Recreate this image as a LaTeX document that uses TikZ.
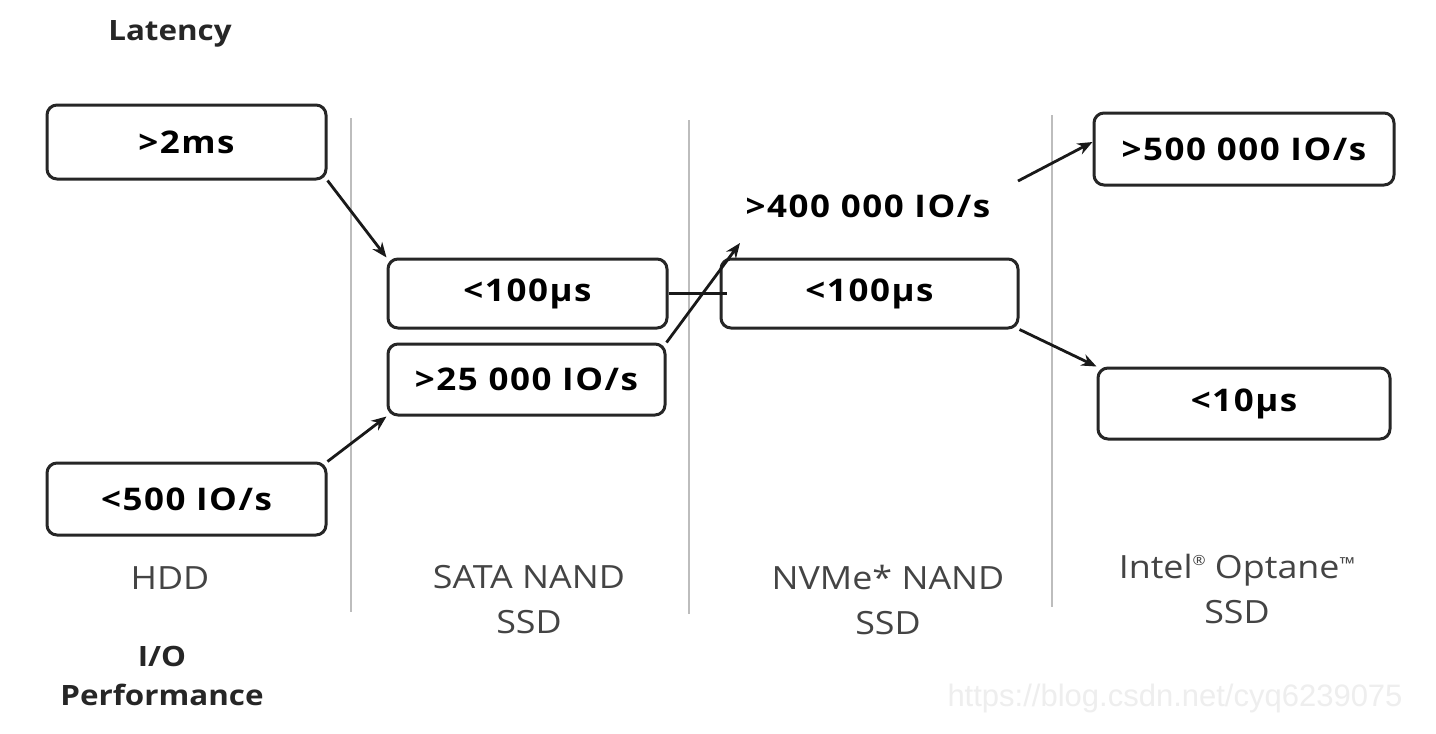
\documentclass[tikz,border=0pt]{standalone}
\usepackage{fontspec}
\setmainfont{Open Sans}[FakeStretch=1.12]
\newfontfamily\boxfont{Open Sans}[FakeStretch=1.12,LetterSpace=5]
\newfontfamily\wmfont{Liberation Sans}
\usetikzlibrary{arrows.meta}
\definecolor{labelgray}{HTML}{444444}
\definecolor{sepgray}{HTML}{BDBDBD}
\definecolor{wmgray}{HTML}{EEEEEE}
\tikzset{
  box/.style={draw=black!85, line width=1.5pt, rounded corners=5pt, fill=white,
    inner sep=0pt, font=\boxfont\bfseries\fontsize{15.6}{18}\selectfont},
  boxtext/.style={inner sep=0pt, font=\boxfont\bfseries\fontsize{15.6}{18}\selectfont},
  arr/.style={line width=1.4pt, draw=black!90, -{Stealth[length=7.5pt,width=6pt]}},
  conn/.style={line width=1.4pt, draw=black!90},
  sep/.style={draw=sepgray, line width=1pt},
  cat/.style={align=center, text=labelgray, inner sep=0pt, font=\fontsize{16}{22.5}\selectfont},
  head/.style={align=center, text=black!85, inner sep=0pt, font=\bfseries\fontsize{14}{19.5}\selectfont},
}
\begin{document}
\begin{tikzpicture}[x=0.5pt,y=-0.5pt]
\useasboundingbox (0,0) rectangle (1436,734);
\fill[white] (0,0) rectangle (1436,734);
% separators
\draw[sep] (351,118) -- (351,612);
\draw[sep] (689,120) -- (689,614);
\draw[sep] (1052,115) -- (1052,607);
% headings
\node[head] (lat) at (170,34) {Latency};
\node[head] (iop) at (162,676) {I/O\\Performance};
% category labels
\node[cat] (hdd) at (170,578) {HDD};
\node[cat] (sata) at (529,600) {SATA NAND\\SSD};
\node[cat] (nvme) at (888,600) {NVMe* NAND\\SSD};
\node[cat] (optane) at (1237,589) {Intel{\fontsize{7}{7}\selectfont\raisebox{6.5pt}{®}} Optane{\fontsize{9}{9}\selectfont\raisebox{4pt}{™}}\\SSD};
% boxes
\node[box, minimum width=139.5pt, minimum height=37pt] (hddlat) at (186.5,142) {>2ms};
\node[box, minimum width=139.5pt, minimum height=36pt] (hddio) at (186.5,499) {<500 IO/s};
\node[box, minimum width=139.5pt, minimum height=34.5pt] (satalat) at (527.5,293.5) {<100µs};
\node[box, minimum width=138.5pt, minimum height=35.5pt] (sataio) at (526.5,379.5) {>25 000 IO/s};
\node[box, minimum width=148.5pt, minimum height=34.5pt] (nvmelat) at (869.5,293.5) {<100µs};
\node[boxtext] (nvmeio) at (868,206) {>400 000 IO/s};
\node[box, minimum width=150pt, minimum height=36pt] (optio) at (1244,149) {>500 000 IO/s};
\node[box, minimum width=146pt, minimum height=35.5pt] (optlat) at (1244,403.5) {<10µs};
% connectors
\coordinate (nvmeioin) at (740,243);
\coordinate (nvmeioout) at (1018,181);
\draw[arr] (hddlat.south east) -- (satalat.north west);
\draw[arr] (hddio.north east) -- (sataio.south west);
\draw[conn] (satalat.east) -- ([xshift=3.5pt]nvmelat.west);
\draw[arr] (sataio.north east) -- (nvmeioin);
\draw[arr] (nvmeioout) -- ([yshift=3.5pt]optio.west);
\draw[arr] (nvmelat.south east) -- (optlat.north west);
% watermark
\node[text=wmgray, inner sep=0pt, font=\wmfont\fontsize{15.5}{18}\selectfont] (wm) at (1175,698) {https://blog.csdn.net/cyq6239075};
\end{tikzpicture}
\end{document}
